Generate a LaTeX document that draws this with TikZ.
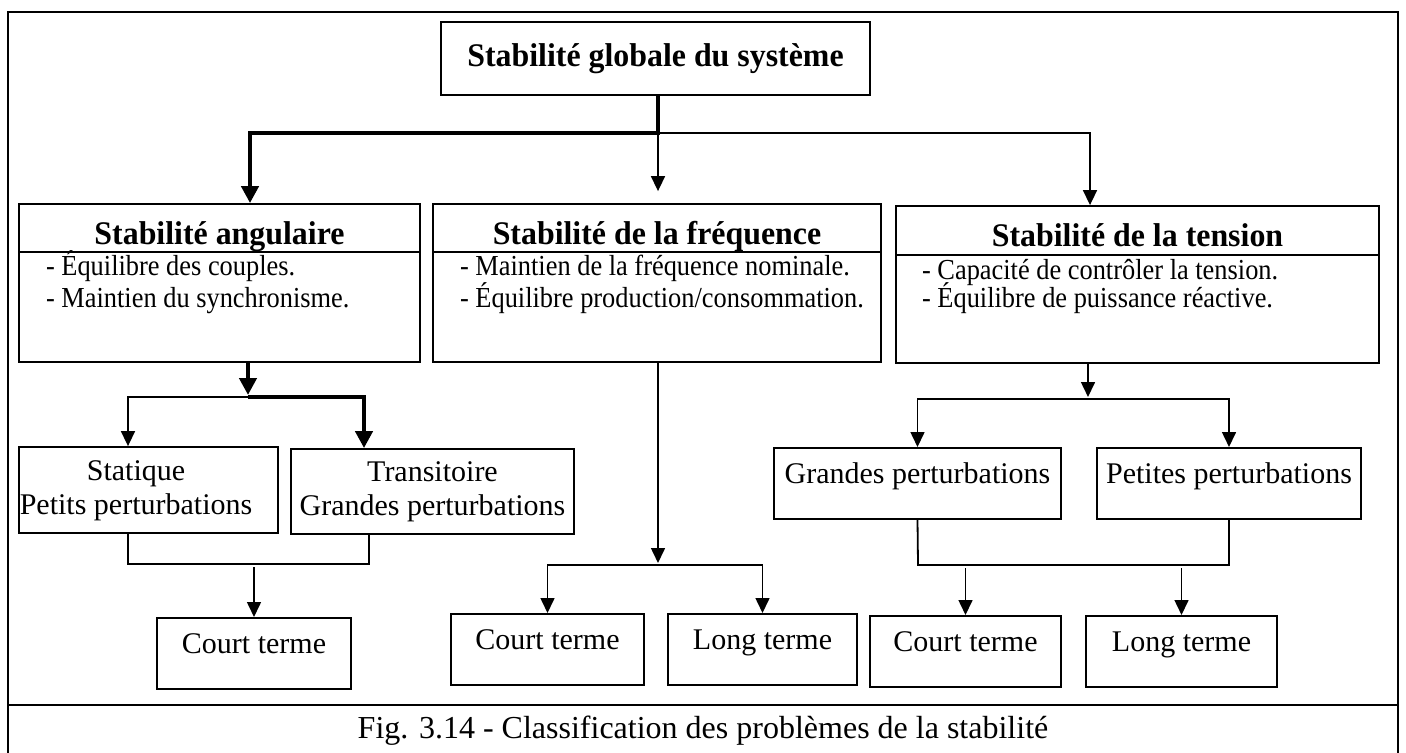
\documentclass[tikz,border=0pt]{standalone}
\usepackage{fontspec}
\setmainfont{Liberation Serif}
\newfontfamily\headfont[FakeStretch=0.966]{Liberation Serif}
\newfontfamily\bulfont[FakeStretch=0.91]{Liberation Serif}
\usetikzlibrary{arrows.meta}

\begin{document}
\begin{tikzpicture}[x=0.5pt, y=-0.5pt,
    box/.style={draw, line width=0.9pt, inner sep=0pt},
    title/.style={font=\headfont\fontsize{16.5}{18}\selectfont\bfseries, anchor=base},
    txt/.style={font=\fontsize{15}{17}\selectfont},
    bul/.style={font=\bulfont\fontsize{14.5}{15}\selectfont, anchor=base west},
    term/.style={box, txt, anchor=north, text height=18pt, text depth=17.5pt},
    arr/.style={line width=0.8pt, -{Triangle[length=7.5pt, width=7pt]}},
    thk/.style={line width=2.4pt, -{Triangle[length=8.5pt, width=8.5pt]}},
    ln/.style={line width=0.9pt}]
    \useasboundingbox (0,0) rectangle (1406,753);

    % frame and caption
    \draw[line width=1.3pt] (8,753) -- (8,12) -- (1398,12) -- (1398,753);
    \draw[line width=1.3pt] (8,705) -- (1398,705);
    \node[font=\fontsize{16}{19}\selectfont, anchor=base] (cap) at (703,738) {Fig. 3.14 - Classification des problèmes de la stabilité};

    % top level
    \node[box, font=\headfont\fontsize{16.5}{18}\selectfont\bfseries, minimum width=214.5pt, minimum height=36.5pt] (top) at (655.5,58.5) {Stabilité globale du système};

    % three families
    \node[box, minimum width=200.5pt, minimum height=79pt] (ang) at (219.5,283) {};
    \node[box, minimum width=224pt, minimum height=79pt] (freq) at (657,283) {};
    \node[box, minimum width=241.5pt, minimum height=78.5pt] (ten) at (1137.5,284.5) {};

    \node[title] (angT) at (219.5,245) {Stabilité angulaire};
    \node[title] (freqT) at (657,245) {Stabilité de la fréquence};
    \node[title] (tenT) at (1137.5,247) {Stabilité de la tension};

    \draw[ln] (ang.west |- 0,252) -- (ang.east |- 0,252);
    \draw[ln] (freq.west |- 0,252) -- (freq.east |- 0,252);
    \draw[ln] (ten.west |- 0,255) -- (ten.east |- 0,255);

    \node[bul] (a1) at (39,276) {- Équilibre des couples.};
    \node[bul] (a2) at (39,307) {- Maintien du synchronisme.};
    \node[bul] (f1) at (453,276) {- Maintien de la fréquence nominale.};
    \node[bul] (f2) at (453,307) {- Équilibre production/consommation.};
    \node[bul] (t1) at (915,280) {- Capacité de contrôler la tension.};
    \node[bul] (t2) at (915,307) {- Équilibre de puissance réactive.};

    % second level
    \node[box, minimum width=129.5pt, minimum height=43pt] (stat) at (148.5,490) {};
    \node[txt, align=center] (statT) at (136,491) {Statique\\Petits perturbations};
    \node[box, txt, align=center, minimum width=141.5pt, minimum height=42.5pt] (trans) at (432.5,491.5) {Transitoire\\Grandes perturbations};
    \node[term, minimum width=143.5pt] (gp) at (917.5,447) {Grandes perturbations};
    \node[term, minimum width=132pt] (pp) at (1229,447) {Petites perturbations};

    % third level
    \node[term, minimum width=97pt] (ac) at (254,617) {Court terme};
    \node[term, minimum width=96.5pt] (fc) at (547.5,613) {Court terme};
    \node[term, minimum width=94.5pt] (fl) at (762.5,613) {Long terme};
    \node[term, minimum width=95.5pt] (tc) at (965.5,615) {Court terme};
    \node[term, minimum width=95.5pt] (tl) at (1181.5,615) {Long terme};

    % connectors
    \coordinate (tj) at (658,133);
    \coordinate (ja) at (250,133);
    \coordinate (jt) at (1090,133);
    \draw[thk] (tj |- top.south) -- (tj) -- (ja) -- (ja |- ang.north);
    \draw[arr] (tj) -- (jt) -- (jt |- ten.north);
    \draw[arr, shorten >=6pt] (tj) -- (tj |- freq.north);

    \coordinate (b0) at (248,397);
    \coordinate (b1) at (128,397);
    \coordinate (b2) at (364,397);
    \draw[thk, shorten >=1pt] (b0 |- ang.south) -- (b0);
    \draw[arr] (b0) -- (b1) -- (b1 |- stat.north);
    \draw[thk] (b0) -- (b2) -- (b2 |- trans.north);
    \coordinate (c1) at (128,564);
    \coordinate (c2) at (369,564);
    \draw[ln] (c1 |- stat.south) -- (c1) -- (c2) -- (c2 |- trans.south);
    \draw[arr, shorten <=1.5pt] (ac.north |- c1) -- (ac.north);

    \coordinate (f0) at (658,565);
    \draw[arr, shorten >=1pt] (f0 |- freq.south) -- (f0);
    \draw[arr] (f0) -| (fc.north);
    \draw[arr] (f0) -| (fl.north);

    \coordinate (t0) at (1088,399);
    \coordinate (tm) at (918,565);
    \draw[arr, shorten >=1pt] (t0 |- ten.south) -- (t0);
    \draw[arr] (t0) -| (gp.north);
    \draw[arr] (t0) -| (pp.north);
    \draw[ln] (gp.south) -- (tm) -| (pp.south);
    \draw[arr, shorten <=1.5pt] (tc.north |- tm) -- (tc.north);
    \draw[arr, shorten <=1.5pt] (tl.north |- tm) -- (tl.north);
\end{tikzpicture}
\end{document}
